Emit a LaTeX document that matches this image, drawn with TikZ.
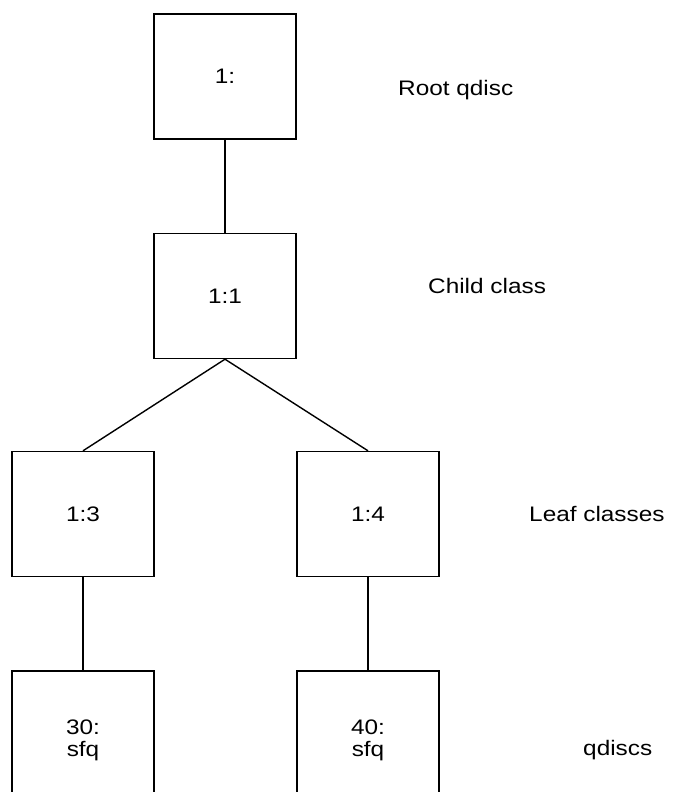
\documentclass[tikz,border=0pt]{standalone}
\usepackage{fontspec}
\setmainfont{Liberation Sans}[FakeStretch=1.16]
\begin{document}
\begin{tikzpicture}[x=1pt,y=-1pt,
  box/.style={draw,line width=1.4pt,minimum width=142pt,minimum height=125pt,
    inner sep=0pt,align=center,font=\fontsize{21}{21}\selectfont},
  side/.style={anchor=west,inner sep=0pt,font=\fontsize{21}{24}\selectfont},
  link/.style={line width=1.4pt}]
\useasboundingbox (0,0) rectangle (672,792);
\begin{scope}
\clip (0,0) rectangle (672,792);
% class hierarchy
\node[box] (root)   at (225,76.5)  {1:};
\node[box] (child)  at (225,296)   {1:1};
\node[box] (leafA)  at (83,514)    {1:3};
\node[box] (leafB)  at (368,514)   {1:4};
\node[box, text depth=0pt] (sfqA) at (83,733.5)  {\raisebox{-9pt}{\shortstack{30:\\[4pt]sfq}}};
\node[box, text depth=0pt] (sfqB) at (368,733.5) {\raisebox{-9pt}{\shortstack{40:\\[4pt]sfq}}};
\draw[link] (root.south) -- (child.north);
\draw[link] (child.south) -- (leafA.north);
\draw[link] (child.south) -- (leafB.north);
\draw[link] (leafA.south) -- (sfqA.north);
\draw[link] (leafB.south) -- (sfqB.north);
\end{scope}
% level captions
\node[side] (lroot)  at (398,90)  {Root qdisc};
\node[side] (lchild) at (428,286) {Child class};
\node[side] (lleaf)  at (529,514) {Leaf classes};
\node[side] (lsfq)   at (583,750) {qdiscs};
\end{tikzpicture}
\end{document}
